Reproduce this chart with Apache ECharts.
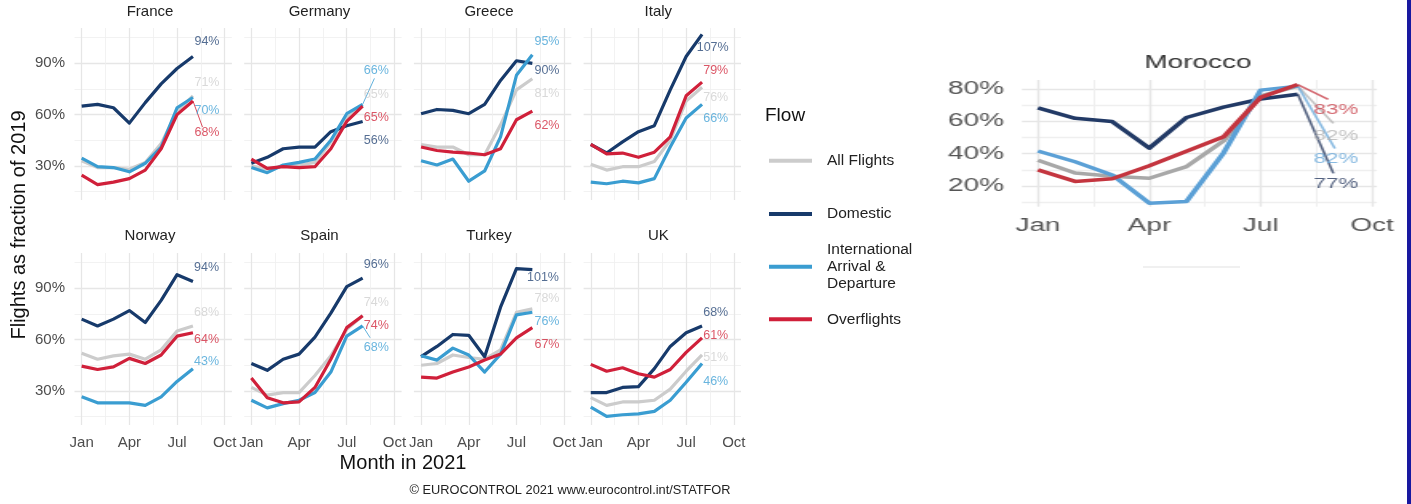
<!DOCTYPE html>
<html><head><meta charset="utf-8">
<script src="https://cdn.jsdelivr.net/npm/echarts@6/dist/echarts.min.js"></script>
<style>
html,body{margin:0;padding:0;background:#fff;}
#main{position:absolute;left:0;top:0;width:1411px;height:504px;}
#mor{position:absolute;left:900px;top:0;width:315px;height:300px;transform:scaleX(1.6);transform-origin:0 0;}
</style></head><body>
<div id="main"></div><div id="mor"></div>
<script>
// ---------------- DATA ----------------
const months = [1, 2, 3, 4, 5, 6, 7, 8];
const monthTicks = [1, 4, 7, 10];
const monthTickLabels = ['Jan', 'Apr', 'Jul', 'Oct'];
const monthMinor = [2.5, 5.5, 8.5];
const pctTicks = [30, 60, 90];
const pctMinor = [15, 45, 75, 105];
const moroccoPctTicks = [20, 40, 60, 80];
const moroccoPctMinor = [10, 30, 50, 70];
const flows = ['All Flights', 'Domestic', 'International Arrival & Departure', 'Overflights'];
const countries = ['France', 'Germany', 'Greece', 'Italy', 'Norway', 'Spain', 'Turkey', 'UK'];

const franceAll   = [33, 29, 29, 28, 32, 43, 62, 71];
const franceDom   = [65, 66, 64, 55, 67, 78, 87, 94];
const franceIntl  = [34.5, 29.5, 29, 26.5, 31.5, 41, 64, 70];
const franceOver  = [24.5, 19, 20.5, 22.5, 27.5, 40, 60, 68];
const germanyAll  = [30, 28, 30, 30.5, 32, 44, 58, 65];
const germanyDom  = [31.5, 35, 40, 41, 41, 50, 53.5, 56];
const germanyIntl = [29, 26, 30.5, 32, 34, 45, 60.5, 66];
const germanyOver = [34, 28.5, 29.5, 29, 29.5, 40, 56, 65];
const greeceAll   = [42.5, 41, 41, 36.5, 36.5, 54, 74.5, 81];
const greeceDom   = [60.5, 63, 62.5, 60.5, 66, 80, 91.5, 90];
const greeceIntl  = [33, 30.5, 34, 21, 27, 47, 83, 95];
const greeceOver  = [41, 39, 38, 37.5, 36.5, 40, 57, 62];
const italyAll    = [31, 27.5, 29.5, 29.5, 32.5, 45, 68, 76];
const italyDom    = [42.5, 37.5, 44, 50, 53.5, 74.5, 94, 107];
const italyIntl   = [20.5, 19.5, 21, 20, 22.5, 41, 58, 66];
const italyOver   = [42.5, 37, 37.5, 35, 38, 47, 71, 79];
const norwayAll   = [52, 48.5, 50.5, 51.5, 48.5, 54, 65, 68];
const norwayDom   = [72, 68, 72, 77, 70, 83, 98, 94];
const norwayIntl  = [26.5, 23, 23, 23, 21.5, 26.5, 35.5, 43];
const norwayOver  = [44.5, 42.5, 44, 49, 46, 51, 62, 64];
const spainAll    = [32, 27.5, 29, 29, 39, 50.5, 66, 74];
const spainDom    = [46, 42, 48.5, 51.5, 61.5, 75.5, 91, 96];
const spainIntl   = [24.5, 20, 22.5, 24.5, 29, 41, 62, 68];
const spainOver   = [37.5, 26, 23, 23.5, 32, 48.5, 67, 74];
const turkeyAll   = [45, 46, 51, 49.5, 48.5, 54, 76, 78];
const turkeyDom   = [50, 56, 63, 62.5, 50, 79, 101.5, 101];
const turkeyIntl  = [50.5, 48, 55, 51, 41, 51.5, 74.5, 76];
const turkeyOver  = [38, 37.5, 41, 44, 48, 51.5, 61, 67];
const ukAll       = [26, 21.5, 23.5, 23.5, 24.5, 31, 41.5, 51];
const ukDom       = [29, 29, 32, 32.5, 43, 56, 64, 68];
const ukIntl      = [20.5, 15, 16, 16.5, 18, 24.5, 35, 46];
const ukOver      = [45.5, 41.5, 43.5, 40, 38, 42.5, 52.5, 61];
const moroccoAll  = [36, 28, 26, 24.8, 32, 48, 76, 82];
const moroccoDom  = [68.5, 62, 60, 43.5, 62.5, 69, 74, 77];
const moroccoIntl = [41.7, 35, 26.8, 9.3, 10.3, 40.5, 79.5, 82];
const moroccoOver = [30, 22.8, 24.5, 32.5, 41.5, 50.5, 75, 83];

const panelData = {
  France: [franceAll, franceDom, franceIntl, franceOver],
  Germany: [germanyAll, germanyDom, germanyIntl, germanyOver],
  Greece: [greeceAll, greeceDom, greeceIntl, greeceOver],
  Italy: [italyAll, italyDom, italyIntl, italyOver],
  Norway: [norwayAll, norwayDom, norwayIntl, norwayOver],
  Spain: [spainAll, spainDom, spainIntl, spainOver],
  Turkey: [turkeyAll, turkeyDom, turkeyIntl, turkeyOver],
  UK: [ukAll, ukDom, ukIntl, ukOver]
};
const moroccoData = [moroccoAll, moroccoDom, moroccoIntl, moroccoOver];

// ---------------- LAYOUT (positions / styles) ----------------
const L = {
  panelLeft: [74.5, 244.2, 413.9, 583.6], panelTop: [28, 253], panelW: 157.4, panelH: 172,
  xMin: 0.55, xMax: 10.45, yMin: 10, yMax: 110.7,
  stripX: [150, 319.5, 489, 658.3], stripY: [12, 236]
};
// end-label anchor positions in data coords (order: all, dom, intl, over)
const labelPos = {
  France: [[8.88, 79], [8.88, 102.5], [8.88, 62.6], [8.88, 49.2]],
  Germany: [[8.86, 72], [8.86, 45], [8.86, 85.5], [8.86, 58.5]],
  Greece: [[8.92, 72.5], [8.92, 85.5], [8.92, 102.5], [8.92, 53.8]],
  Italy: [[8.86, 70], [8.67, 99.5], [8.86, 57.8], [8.86, 86]],
  Norway: [[8.86, 76], [8.86, 102.3], [8.86, 46.9], [8.86, 60.1]],
  Spain: [[8.86, 81.8], [8.86, 104], [8.86, 55.6], [8.86, 68.3]],
  Turkey: [[8.92, 84.1], [8.67, 96.4], [8.92, 70.7], [8.92, 57.2]],
  UK: [[8.86, 49.4], [8.86, 76.1], [8.86, 35.7], [8.86, 62.1]]
};
const leaders = { France: [[3, [8.6, 52.7]]], Germany: [[2, [8.74, 81.2]]], Spain: [[2, [8.47, 61.1]]] };
const moroccoLabelPos = [[9.03, 51.2], [9.03, 21.2], [9.03, 36.5], [9.03, 67.1]];
const moroccoLeaders = [[0, [8.96, 58.9]], [1, [8.96, 27.8]], [2, [9.0, 43.3]], [3, [8.82, 73.8]]];

const font = 'Liberation Sans, Arial, Helvetica, sans-serif';
const lineColors = ['#cccccc', '#173a6b', '#3a9dd1', '#d0203a'];
const labelColors = ['#d0d0d0', '#2b4a78', '#45a3d6', '#d22c40'];
const morLineColors = ['#a8a8a8', '#223a66', '#5ba0d6', '#c4353f'];
const morLabelColors = ['#b4b4b4', '#2a3c62', '#6aa9d9', '#c9444d'];

function mkAxis(gi, ticks, major, showLabel, range, fmt, fontSize, margin, labelColor, lw) {
  return {
    type: 'value', gridIndex: gi, min: range[0], max: range[1],
    axisLine: { show: false },
    axisTick: { show: false, customValues: ticks },
    axisLabel: { show: showLabel, customValues: ticks, formatter: fmt, fontSize: fontSize, color: labelColor, margin: margin, fontFamily: font },
    splitLine: { show: true, lineStyle: major ? { color: '#e6e6e6', width: lw[0] } : { color: '#efefef', width: lw[1] } },
    minorTick: { show: false }, minorSplitLine: { show: false }
  };
}
const monthFmt = v => monthTickLabels[monthTicks.indexOf(v)] || '';
const pctFmt = v => v + '%';

// ---------------- MAIN CHART ----------------
const grids = [], xAxes = [], yAxes = [], series = [];
countries.forEach((c, i) => {
  const row = Math.floor(i / 4), col = i % 4;
  grids.push({ left: L.panelLeft[col], top: L.panelTop[row], width: L.panelW, height: L.panelH, containLabel: false, outerBoundsMode: 'none' });
  xAxes.push(mkAxis(i, monthTicks, true, row === 1, [L.xMin, L.xMax], monthFmt, 15, 10, '#4d4d4d', [1.3, 0.8]));
  xAxes.push(mkAxis(i, monthMinor, false, false, [L.xMin, L.xMax], monthFmt, 15, 10, '#4d4d4d', [1.3, 0.8]));
  yAxes.push(mkAxis(i, pctTicks, true, col === 0, [L.yMin, L.yMax], pctFmt, 15, 9.5, '#4d4d4d', [1.3, 0.8]));
  yAxes.push(mkAxis(i, pctMinor, false, false, [L.yMin, L.yMax], pctFmt, 15, 9.5, '#4d4d4d', [1.3, 0.8]));
  const d = panelData[c];
  flows.forEach((f, k) => {
    series.push({
      type: 'line', name: f, xAxisIndex: 2 * i, yAxisIndex: 2 * i,
      data: months.map((m, j) => [m, d[k][j]]),
      symbol: 'none', silent: true, z: 2,
      lineStyle: { width: 3.2, color: lineColors[k], cap: 'butt', join: 'round' },
      itemStyle: { color: lineColors[k] }
    });
  });
  (leaders[c] || []).forEach(([k, end]) => {
    series.push({
      type: 'line', name: 'leader', xAxisIndex: 2 * i, yAxisIndex: 2 * i,
      data: [[months[months.length - 1], d[k][d[k].length - 1]], end],
      symbol: 'none', silent: true, z: 1,
      lineStyle: { width: 1, color: labelColors[k], opacity: 0.85 }
    });
  });
  series.push({
    type: 'scatter', name: 'labels', xAxisIndex: 2 * i, yAxisIndex: 2 * i,
    symbolSize: 0, silent: true, z: 5,
    data: flows.map((f, k) => ({
      value: labelPos[c][k], name: Math.round(d[k][d[k].length - 1]) + '%',
      label: { color: labelColors[k] }
    })),
    label: { show: true, position: 'inside', formatter: p => p.name, fontSize: 12.5, fontFamily: font }
  });
});

const graphics = [];
countries.forEach((c, i) => {
  const row = Math.floor(i / 4), col = i % 4;
  graphics.push({ type: 'text', x: L.stripX[col], y: L.stripY[row], silent: true,
    style: { text: c, fontSize: 15, fontFamily: font, fill: '#222', align: 'center', verticalAlign: 'middle' } });
});
graphics.push({ type: 'text', x: 19, y: 225, rotation: Math.PI / 2, silent: true,
  style: { text: 'Flights as fraction of 2019', fontSize: 20, fontFamily: font, fill: '#111', align: 'center', verticalAlign: 'middle' } });
graphics.push({ type: 'text', x: 403, y: 463, silent: true,
  style: { text: 'Month in 2021', fontSize: 20, fontFamily: font, fill: '#111', align: 'center', verticalAlign: 'middle' } });
graphics.push({ type: 'text', x: 570, y: 490, silent: true,
  style: { text: '© EUROCONTROL 2021 www.eurocontrol.int/STATFOR', fontSize: 12.8, fontFamily: font, fill: '#222', align: 'center', verticalAlign: 'middle' } });
graphics.push({ type: 'text', x: 765, y: 116, silent: true,
  style: { text: 'Flow', fontSize: 19, fontFamily: font, fill: '#111', align: 'left', verticalAlign: 'middle' } });
graphics.push({ type: 'rect', shape: { x: 1407, y: 0, width: 4, height: 504 }, silent: true, style: { fill: '#1818a0' } });
graphics.push({ type: 'rect', shape: { x: 1143, y: 266, width: 97, height: 2 }, silent: true, style: { fill: '#f0f0f0' } });

const legendCenters = [160.7, 214, 266.7, 319.3];
const legendHeights = [17, 17, 51, 17];
const legends = flows.map((f, k) => ({
  data: [f], orient: 'vertical', left: 769, top: legendCenters[k] - legendHeights[k] / 2,
  padding: 0, itemWidth: 43, itemHeight: 4, icon: 'rect', selectedMode: false,
  textStyle: { fontSize: 15.5, fontFamily: font, color: '#222', lineHeight: 17, padding: [0, 0, 0, 10] },
  formatter: n => n === 'International Arrival & Departure' ? 'International\nArrival &\nDeparture' : n
}));

const main = echarts.init(document.getElementById('main'), null, { renderer: 'canvas' });
main.setOption({
  animation: false, backgroundColor: '#ffffff',
  textStyle: { fontFamily: font },
  grid: grids, xAxis: xAxes, yAxis: yAxes, series: series, legend: legends, graphic: graphics
});

// ---------------- MOROCCO (stretched inset) ----------------
const M = { left: 76.25, top: 80, width: 221.9, height: 126.7, xMin: 0.569, xMax: 10.135, yMin: 7.1, yMax: 85.8 };
const mSeries = [];
flows.forEach((f, k) => {
  mSeries.push({
    type: 'line', name: f, data: months.map((m, j) => [m, moroccoData[k][j]]),
    symbol: 'none', silent: true, z: 2,
    lineStyle: { width: 3.5, color: morLineColors[k], join: 'round' }, itemStyle: { color: morLineColors[k] }
  });
});
moroccoLeaders.forEach(([k, end]) => {
  mSeries.push({
    type: 'line', name: 'leader', data: [[months[months.length - 1], moroccoData[k][moroccoData[k].length - 1]], end],
    symbol: 'none', silent: true, z: 1, lineStyle: { width: 1.6, color: morLabelColors[k], opacity: 0.8 }
  });
});
mSeries.push({
  type: 'scatter', name: 'labels', symbolSize: 0, silent: true, z: 5,
  data: flows.map((f, k) => ({ value: moroccoLabelPos[k], name: Math.round(moroccoData[k][moroccoData[k].length - 1]) + '%', label: { color: morLabelColors[k] } })),
  label: { show: true, position: 'inside', formatter: p => p.name, fontSize: 14, fontFamily: font }
});
const mor = echarts.init(document.getElementById('mor'), null, { renderer: 'canvas' });
mor.setOption({
  animation: false, backgroundColor: 'transparent', textStyle: { fontFamily: font },
  grid: [{ left: M.left, top: M.top, width: M.width, height: M.height, containLabel: false, outerBoundsMode: 'none' }],
  xAxis: [mkAxis(0, monthTicks, true, true, [M.xMin, M.xMax], monthFmt, 17.5, 10, '#555', [1.4, 1.0]),
          mkAxis(0, monthMinor, false, false, [M.xMin, M.xMax], monthFmt, 17.5, 10, '#555', [1.4, 1.0])],
  yAxis: [mkAxis(0, moroccoPctTicks, true, true, [M.yMin, M.yMax], pctFmt, 17.5, 11.25, '#555', [1.4, 1.4]),
          mkAxis(0, moroccoPctMinor, false, false, [M.yMin, M.yMax], pctFmt, 17.5, 11.25, '#555', [1.4, 1.4])],
  series: mSeries,
  graphic: [{ type: 'text', x: (1198 - 900) / 1.6, y: 62.7, silent: true,
    style: { text: 'Morocco', fontSize: 17.5, fontFamily: font, fill: '#333', align: 'center', verticalAlign: 'middle' } }]
});
</script>
</body></html>
